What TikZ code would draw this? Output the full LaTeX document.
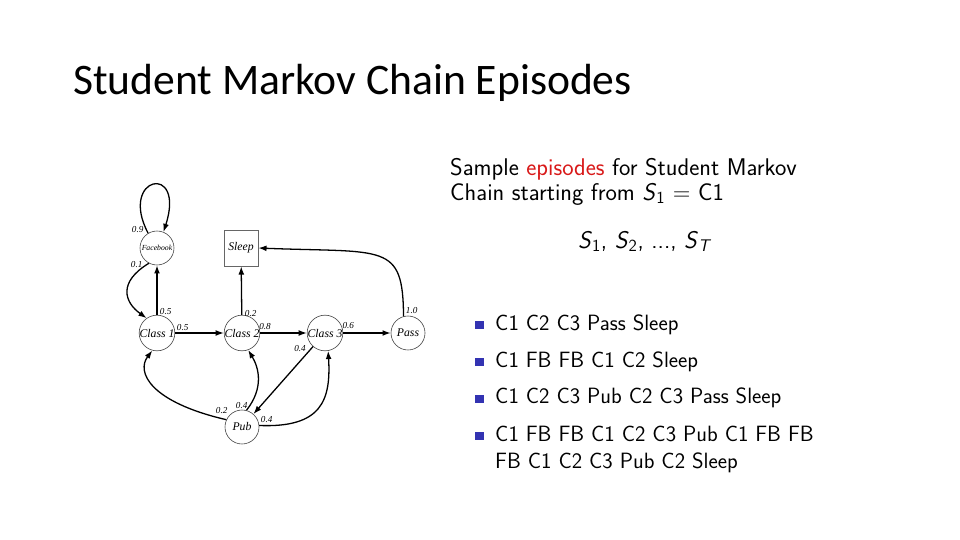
\documentclass[tikz,border=0pt]{standalone}
\usepackage{fontspec}
\newfontfamily\titlefont{Carlito}
\newfontfamily\graphfont{Liberation Serif}
\usetikzlibrary{arrows.meta}
\definecolor{beamerblue}{rgb}{0.2,0.2,0.7}
\definecolor{alertred}{rgb}{0.85,0.1,0.1}
\tikzset{
  state/.style={circle, draw=black!75, line width=0.5pt, minimum size=1.02cm, inner sep=0pt,
    font=\graphfont\itshape\fontsize{10}{11}\selectfont},
  sleepbox/.style={rectangle, draw=black!60, line width=0.6pt, minimum width=1.02cm,
    minimum height=1.08cm, inner sep=0pt, font=\graphfont\itshape\fontsize{10}{11}\selectfont},
  edge/.style={line width=1.1pt, -{Latex[length=7pt,width=5pt]}},
  prob/.style={font=\graphfont\itshape\fontsize{7.8}{8}\selectfont, inner sep=0pt},
  slidetext/.style={anchor=base west, inner sep=0pt, font=\sffamily\fontsize{20.6}{24}\selectfont},
  episode/.style={anchor=base west, inner sep=0pt, font=\sffamily\fontsize{18.9}{22}\selectfont}
}

\begin{document}
\begin{tikzpicture}[x=0.03cm, y=-0.03cm]
			%%%%% START %%%%%
			\useasboundingbox[fill=white] (0, 0) rectangle (960, 540);
			
			\node[anchor=base west, inner sep=0pt, font=\titlefont\fontsize{37.2}{40}\selectfont] (title) at (73, 95) {Student Markov Chain Episodes};
			
			% states
			\node[state] (fb) at (157, 248) {\fontsize{6.6}{7}\selectfont Facebook};
			\node[sleepbox] (sleep) at (241, 248) {Sleep};
			\node[state] (c1) at (157, 333) {Class 1};
			\node[state] (c2) at (242, 333) {Class 2};
			\node[state] (c3) at (325, 333) {Class 3};
			\node[state] (pass) at (408, 333) {Pass};
			\node[state] (pub) at (242, 427) {Pub};
			
			% transitions
			\draw[edge] (fb.121) .. controls (118, 176) and (186, 162) .. (fb.68);
			\draw[edge] (fb.242) .. controls (118, 282) and (124, 302) .. (c1.125);
			\draw[edge] (c1) -- (fb);
			\draw[edge] (c1) -- (c2);
			\draw[edge] (c2) -- (sleep);
			\draw[edge] (c2) -- (c3);
			\draw[edge] (c3) -- (pass);
			\draw[edge] (pass.105) .. controls (403, 242) and (385, 253) .. (sleep.east);
			\draw[edge] (c3) -- (pub);
			\draw[edge] (pub.155) .. controls (150, 402) and (136, 372) .. (c1.255);
			\draw[edge] (pub.75) .. controls (264, 388) and (259, 368) .. (c2.290);
			\draw[edge] (pub.5) .. controls (322, 428) and (331, 400) .. (c3.280);
			
			% probabilities
			\node[prob] (p09) at (137.7, 230) {0.9};
			\node[prob] (p01) at (136.7, 265) {0.1};
			\node[prob] (p05a) at (165.7, 311.7) {0.5};
			\node[prob] (p05b) at (182.7, 327.3) {0.5};
			\node[prob] (p02a) at (250.7, 313.3) {0.2};
			\node[prob] (p08) at (265, 326.7) {0.8};
			\node[prob] (p06) at (348.3, 326) {0.6};
			\node[prob] (p10) at (411.7, 310.7) {1.0};
			\node[prob] (p04a) at (300, 348.3) {0.4};
			\node[prob] (p02b) at (221.7, 411) {0.2};
			\node[prob] (p04b) at (241.7, 405.7) {0.4};
			\node[prob] (p04c) at (266.7, 420) {0.4};
			
			% text on the right
			\node[slidetext] (head1) at (450, 176) {Sample \textcolor{alertred}{episodes} for Student Markov};
			\node[slidetext] (head2) at (450, 200) {Chain starting from \textsl{S}\textsubscript{1} = C1};
			\node[slidetext, anchor=base] (seq) at (645, 248) {\textsl{S}\textsubscript{1}, \textsl{S}\textsubscript{2}, ..., \textsl{S}\textsubscript{\textsl{T}}};
			
			\fill[beamerblue] (475, 321) rectangle (484, 329);
			\fill[beamerblue] (475, 358) rectangle (484, 366);
			\fill[beamerblue] (475, 395) rectangle (484, 403);
			\fill[beamerblue] (475, 432) rectangle (484, 440);
			
			\node[episode] (ep1) at (495, 330) {C1 C2 C3 Pass Sleep};
			\node[episode] (ep2) at (495, 367) {C1 FB FB C1 C2 Sleep};
			\node[episode] (ep3) at (495, 403) {C1 C2 C3 Pub C2 C3 Pass Sleep};
			\node[episode] (ep4) at (495, 441) {C1 FB FB C1 C2 C3 Pub C1 FB FB};
			\node[episode] (ep5) at (495, 468) {FB C1 C2 C3 Pub C2 Sleep};
			%%%%% END %%%%%
\end{tikzpicture}
\end{document}
